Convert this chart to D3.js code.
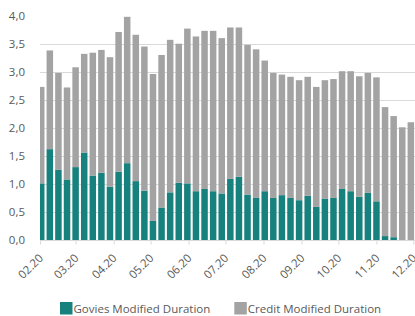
<!DOCTYPE html>
<html>
<head>
<meta charset="utf-8">
<script src="https://cdn.jsdelivr.net/npm/d3@7"></script>
<style>
  body { margin: 0; background: #fff; }
  svg { display: block; font-family: "Open Sans", sans-serif; }
</style>
</head>
<body>
<svg width="415" height="316"></svg>
<script>
// weekly observations, 2020
var weeks = ["2020-02-02", "2020-02-09", "2020-02-16", "2020-02-23",
    "2020-03-01", "2020-03-08", "2020-03-15", "2020-03-22", "2020-03-29",
    "2020-04-05", "2020-04-12", "2020-04-19", "2020-04-26",
    "2020-05-03", "2020-05-10", "2020-05-17", "2020-05-24", "2020-05-31",
    "2020-06-07", "2020-06-14", "2020-06-21", "2020-06-28",
    "2020-07-05", "2020-07-12", "2020-07-19", "2020-07-26",
    "2020-08-02", "2020-08-09", "2020-08-16", "2020-08-23", "2020-08-30",
    "2020-09-06", "2020-09-13", "2020-09-20", "2020-09-27",
    "2020-10-04", "2020-10-11", "2020-10-18", "2020-10-25",
    "2020-11-01", "2020-11-08", "2020-11-15", "2020-11-22", "2020-11-29"];

// total duration (top of bar) and govies part
var total = [2.73, 3.38, 2.98, 2.72, 3.08, 3.32, 3.34, 3.39, 3.26, 3.71, 3.98, 3.66,
    3.45, 2.96, 3.30, 3.57, 3.50, 3.77, 3.63, 3.73, 3.73, 3.60, 3.79, 3.79,
    3.48, 3.40, 3.20, 2.98, 2.95, 2.91, 2.85, 2.91, 2.73, 2.85, 2.87, 3.01,
    3.01, 2.92, 2.98, 2.90, 2.37, 2.21, 2.01, 2.10];
var govies = [1.01, 1.62, 1.25, 1.08, 1.30, 1.56, 1.15, 1.20, 0.95, 1.22, 1.37, 1.05,
    0.88, 0.34, 0.58, 0.85, 1.02, 1.01, 0.87, 0.91, 0.87, 0.83, 1.09, 1.13,
    0.81, 0.75, 0.87, 0.75, 0.80, 0.75, 0.71, 0.79, 0.59, 0.74, 0.75, 0.91,
    0.87, 0.77, 0.84, 0.69, 0.07, 0.05, 0.00, 0.00];

var yTicks = [0, 0.5, 1, 1.5, 2, 2.5, 3, 3.5, 4];
var monthTicks = ["2020-02-01", "2020-03-01", "2020-04-01", "2020-05-01", "2020-06-01",
    "2020-07-01", "2020-08-01", "2020-09-01", "2020-10-01", "2020-11-01", "2020-12-01"];

var seriesNames = ["Govies Modified Duration", "Credit Modified Duration"];
var colors = ["#17817e", "#a3a3a3"];

var svg = d3.select("svg"),
    plotLeft = 40,
    plotRight = 413.3,
    plotTop = 15.7,
    plotBottom = 240;

var parseDate = d3.timeParse("%Y-%m-%d");

var data = weeks.map(function(w, i) {
    return {
        date: parseDate(w),
        govies: govies[i],
        credit: total[i] - govies[i]
    };
});

var x = d3.scaleTime()
    .domain([parseDate("2020-02-01"), parseDate("2020-12-01")])
    .range([plotLeft, plotRight]);

var y = d3.scaleLinear()
    .domain([0, 4])
    .range([plotBottom, plotTop]);

var fmtY = function(d) { return d3.format(".1f")(d).replace(".", ","); };
var fmtX = d3.timeFormat("%m.%y");

// gridlines (no line at the top value)
svg.append("g")
    .selectAll("line")
    .data(yTicks.filter(function(d) { return d > 0 && d < 4; }))
    .enter().append("line")
    .attr("x1", plotLeft)
    .attr("x2", 415)
    .attr("y1", function(d) { return Math.round(y(d)) + 0.5; })
    .attr("y2", function(d) { return Math.round(y(d)) + 0.5; })
    .attr("stroke", "#d9d9d9")
    .attr("stroke-width", 1);

svg.append("defs").append("clipPath")
    .attr("id", "plot")
    .append("rect")
    .attr("x", plotLeft)
    .attr("y", 0)
    .attr("width", 415 - plotLeft)
    .attr("height", plotBottom + 1);

var stack = d3.stack().keys(["govies", "credit"]);
var layers = stack(data);
var barW = 6.5;

svg.append("g")
    .attr("clip-path", "url(#plot)")
    .selectAll("g")
    .data(layers)
    .enter().append("g")
    .attr("fill", function(d, i) { return colors[i]; })
    .selectAll("rect")
    .data(function(d) { return d; })
    .enter().append("rect")
    .attr("x", function(d) { return x(d.data.date) - barW / 2; })
    .attr("width", barW)
    .attr("y", function(d) { return y(d[1]); })
    .attr("height", function(d) { return y(d[0]) - y(d[1]); });

// x axis
var xAxis = svg.append("g")
    .attr("transform", "translate(0," + (plotBottom + 0.5) + ")")
    .call(d3.axisBottom(x)
        .tickValues(monthTicks.map(parseDate))
        .tickSize(4)
        .tickFormat(""));
xAxis.select(".domain").attr("stroke", "#d9d9d9").attr("d", "M" + plotLeft + ",0H415");
xAxis.selectAll(".tick line").attr("stroke", "#d9d9d9");

svg.append("g")
    .selectAll("text")
    .data(monthTicks)
    .enter().append("text")
    .attr("transform", function(d) {
        return "translate(" + (x(parseDate(d)) + 1) + "," + (plotBottom + 16) + ") rotate(-45)";
    })
    .attr("text-anchor", "end")
    .attr("dy", "0.35em")
    .attr("fill", "#595959")
    .style("font-size", "11.5px")
    .text(function(d) { return fmtX(parseDate(d)); });

// y labels
svg.append("g")
    .selectAll("text")
    .data(yTicks)
    .enter().append("text")
    .attr("x", 25)
    .attr("y", function(d) { return y(d); })
    .attr("dy", "0.35em")
    .attr("text-anchor", "end")
    .attr("fill", "#595959")
    .style("font-size", "11.5px")
    .text(fmtY);

// legend
var legendX = [60, 234.3];
var legend = svg.append("g")
    .selectAll("g")
    .data(seriesNames)
    .enter().append("g")
    .attr("transform", function(d, i) { return "translate(" + legendX[i] + ",302)"; });
legend.append("rect")
    .attr("width", 12.5)
    .attr("height", 12.5)
    .attr("fill", function(d, i) { return colors[i]; });
legend.append("text")
    .attr("x", 13.5)
    .attr("y", 11)
    .attr("fill", "#595959")
    .style("font-size", "11.5px")
    .text(function(d) { return d; });
</script>
</body>
</html>
